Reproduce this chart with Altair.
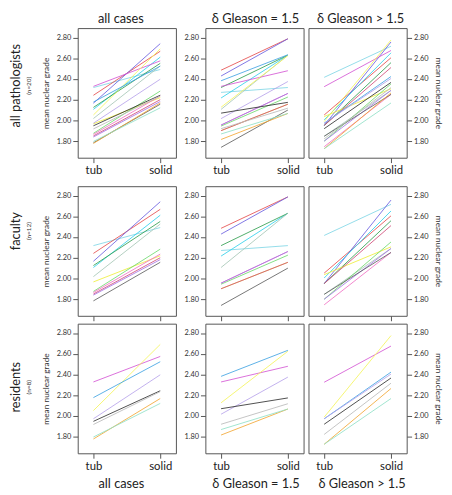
import altair as alt
import pandas as pd

# ---------------- data ----------------
people = ["F1", "F2", "F3", "F4", "F5", "F6", "F7", "F8", "F9", "F10", "F11", "F12",
          "R1", "R2", "R3", "R4", "R5", "R6", "R7", "R8"]
groups = ["faculty"] * 12 + ["residents"] * 8
line_colors = ["#7fd6e6", "#e44a4a", "#6a5ee0", "#2fd0ea", "#2f9e4e", "#a6c6b6",
               "#eeee3a", "#6ed86e", "#f070c4", "#d04a78", "#a677e6", "#5e5e5e",
               "#d455d4", "#f4f45a", "#3fa2e2", "#b7a2ea", "#2e2e2e", "#b9b9b9",
               "#f2a632", "#8fe0c6"]

# mean nuclear grade: tubular vs solid component, per case set
all_tub = [2.317, 2.242, 2.166, 2.106, 2.125, 2.018, 1.967, 1.875, 1.865, 1.850, 1.840, 1.784,
           2.328, 2.052, 2.177, 1.973, 1.948, 1.918, 1.778, 1.797]
all_solid = [2.491, 2.667, 2.740, 2.610, 2.550, 2.525, 2.219, 2.283, 2.235, 2.200, 2.182, 2.156,
             2.574, 2.690, 2.523, 2.397, 2.243, 2.235, 2.168, 2.121]
eq_tub = [2.270, 2.484, 2.428, 2.216, 2.317, 2.106, 1.901, 1.945, 1.955, 1.901, 1.955, 1.740,
          2.328, 2.127, 2.382, 2.017, 2.070, 1.920, 1.816, 1.869]
eq_solid = [2.317, 2.787, 2.787, 2.629, 2.629, 2.629, 2.156, 2.225, 2.260, 2.156, 2.260, 2.100,
            2.479, 2.624, 2.633, 2.375, 2.174, 2.118, 2.067, 2.067]
gt_tub = [2.415, 2.052, 1.951, 2.005, 1.951, 1.847, 2.037, 1.800, 1.746, 1.951, 1.800, 1.847,
          2.325, 1.989, 1.973, 1.973, 1.920, 1.822, 1.727, 1.727]
gt_solid = [2.715, 2.604, 2.756, 2.651, 2.557, 2.289, 2.305, 2.352, 2.251, 2.510, 2.289, 2.251,
            2.674, 2.775, 2.423, 2.404, 2.366, 2.316, 2.265, 2.168]

case_sets = ["all cases", "δ Gleason = 1.5", "δ Gleason > 1.5"]
categories = ["tub", "solid"]
row_titles = ["all pathologists", "faculty", "residents"]
row_n = ["(n=20)", "(n=12)", "(n=8)"]
row_groups = [None, "faculty", "residents"]
y_ticks = [1.8, 2.0, 2.2, 2.4, 2.6, 2.8]
y_title = "mean nuclear grade"

series = {
    case_sets[0]: (all_tub, all_solid),
    case_sets[1]: (eq_tub, eq_solid),
    case_sets[2]: (gt_tub, gt_solid),
}
records = []
for cs, (tub, solid) in series.items():
    for i, p in enumerate(people):
        for cat, vals in zip(categories, (tub, solid)):
            records.append({"person": p, "grp": groups[i], "color": line_colors[i],
                            "caseset": cs, "cat": cat, "value": vals[i]})
df = pd.DataFrame(records)

FONT = "Lato"
TXT = "#222222"
AX = "#555555"


def panel(r, c):
    sub = df[df["caseset"] == case_sets[c]]
    if row_groups[r] is not None:
        sub = sub[sub["grp"] == row_groups[r]]

    xaxis_kw = dict(domain=False, grid=False, tickSize=5, tickColor=AX, labelAngle=0,
                    labelFontSize=11.5, labelColor=TXT, labelPadding=2,
                    titleFontSize=13, titleFontWeight="normal", titleColor=TXT,
                    titlePadding=6)
    if r == 0:
        xaxis = alt.Axis(labels=True, title=None, **xaxis_kw)
    elif r == 1:
        xaxis = alt.Axis(labels=False, title=None, **xaxis_kw)
    else:
        xaxis = alt.Axis(labels=True, title=case_sets[c],
                         titleX=[44, 51, 54][c], **xaxis_kw)

    yaxis_kw = dict(domain=False, grid=False, tickSize=5, tickColor=AX, values=y_ticks,
                    format=".2f", labelFontSize=7.5, labelColor="#333333", labelPadding=2,
                    titleFontSize=8.5, titleFontWeight="normal", titleColor="#333333",
                    titlePadding=6)
    if c == 0:
        yaxis = alt.Axis(orient="left", title=y_title, **yaxis_kw)
    elif c == 1:
        yaxis = alt.Axis(orient="left", title=None, **yaxis_kw)
    else:
        yaxis = alt.Axis(orient="right", title=y_title, **yaxis_kw)

    ch = alt.Chart(sub).mark_line(strokeWidth=1, opacity=0.85).encode(
        x=alt.X("cat:N", sort=categories,
                scale=alt.Scale(type="point", padding=0.235), axis=xaxis),
        y=alt.Y("value:Q", scale=alt.Scale(domain=[1.64, 2.89], nice=False, zero=False),
                axis=yaxis),
        detail="person:N",
        color=alt.Color("color:N", scale=None),
    )
    props = dict(width=100, height=132)
    if r == 0:
        props["title"] = alt.TitleParams(case_sets[c], fontSize=13, fontWeight="normal",
                                         color=TXT, frame="group", anchor="middle",
                                         offset=2, dx=[-6, 1, 3][c])
    return ch.properties(**props)


def row(r):
    # horizontal layout measured between plot areas (flush)
    return alt.hconcat(
        panel(r, 0),
        alt.hconcat(panel(r, 1), panel(r, 2), spacing=5, bounds="flush"),
        spacing=30, bounds="flush",
    ).properties(
        title=alt.TitleParams(row_titles[r], subtitle=row_n[r], orient="left",
                              anchor="middle", fontSize=13, fontWeight="normal",
                              color=TXT, subtitleFontSize=6.5, subtitleColor="#333333",
                              subtitlePadding=3, offset=9, dx=[9, 23, 20][r])
    )


chart = alt.vconcat(
    row(0),
    alt.vconcat(row(1), row(2), spacing=1),
    spacing=9,
).properties(
    padding={"left": 2, "top": 0, "right": 0, "bottom": 0}
).configure(font=FONT).configure_view(
    stroke=AX, strokeWidth=1
)

chart.save("out.html", embed_options={"renderer": "svg", "actions": False})
